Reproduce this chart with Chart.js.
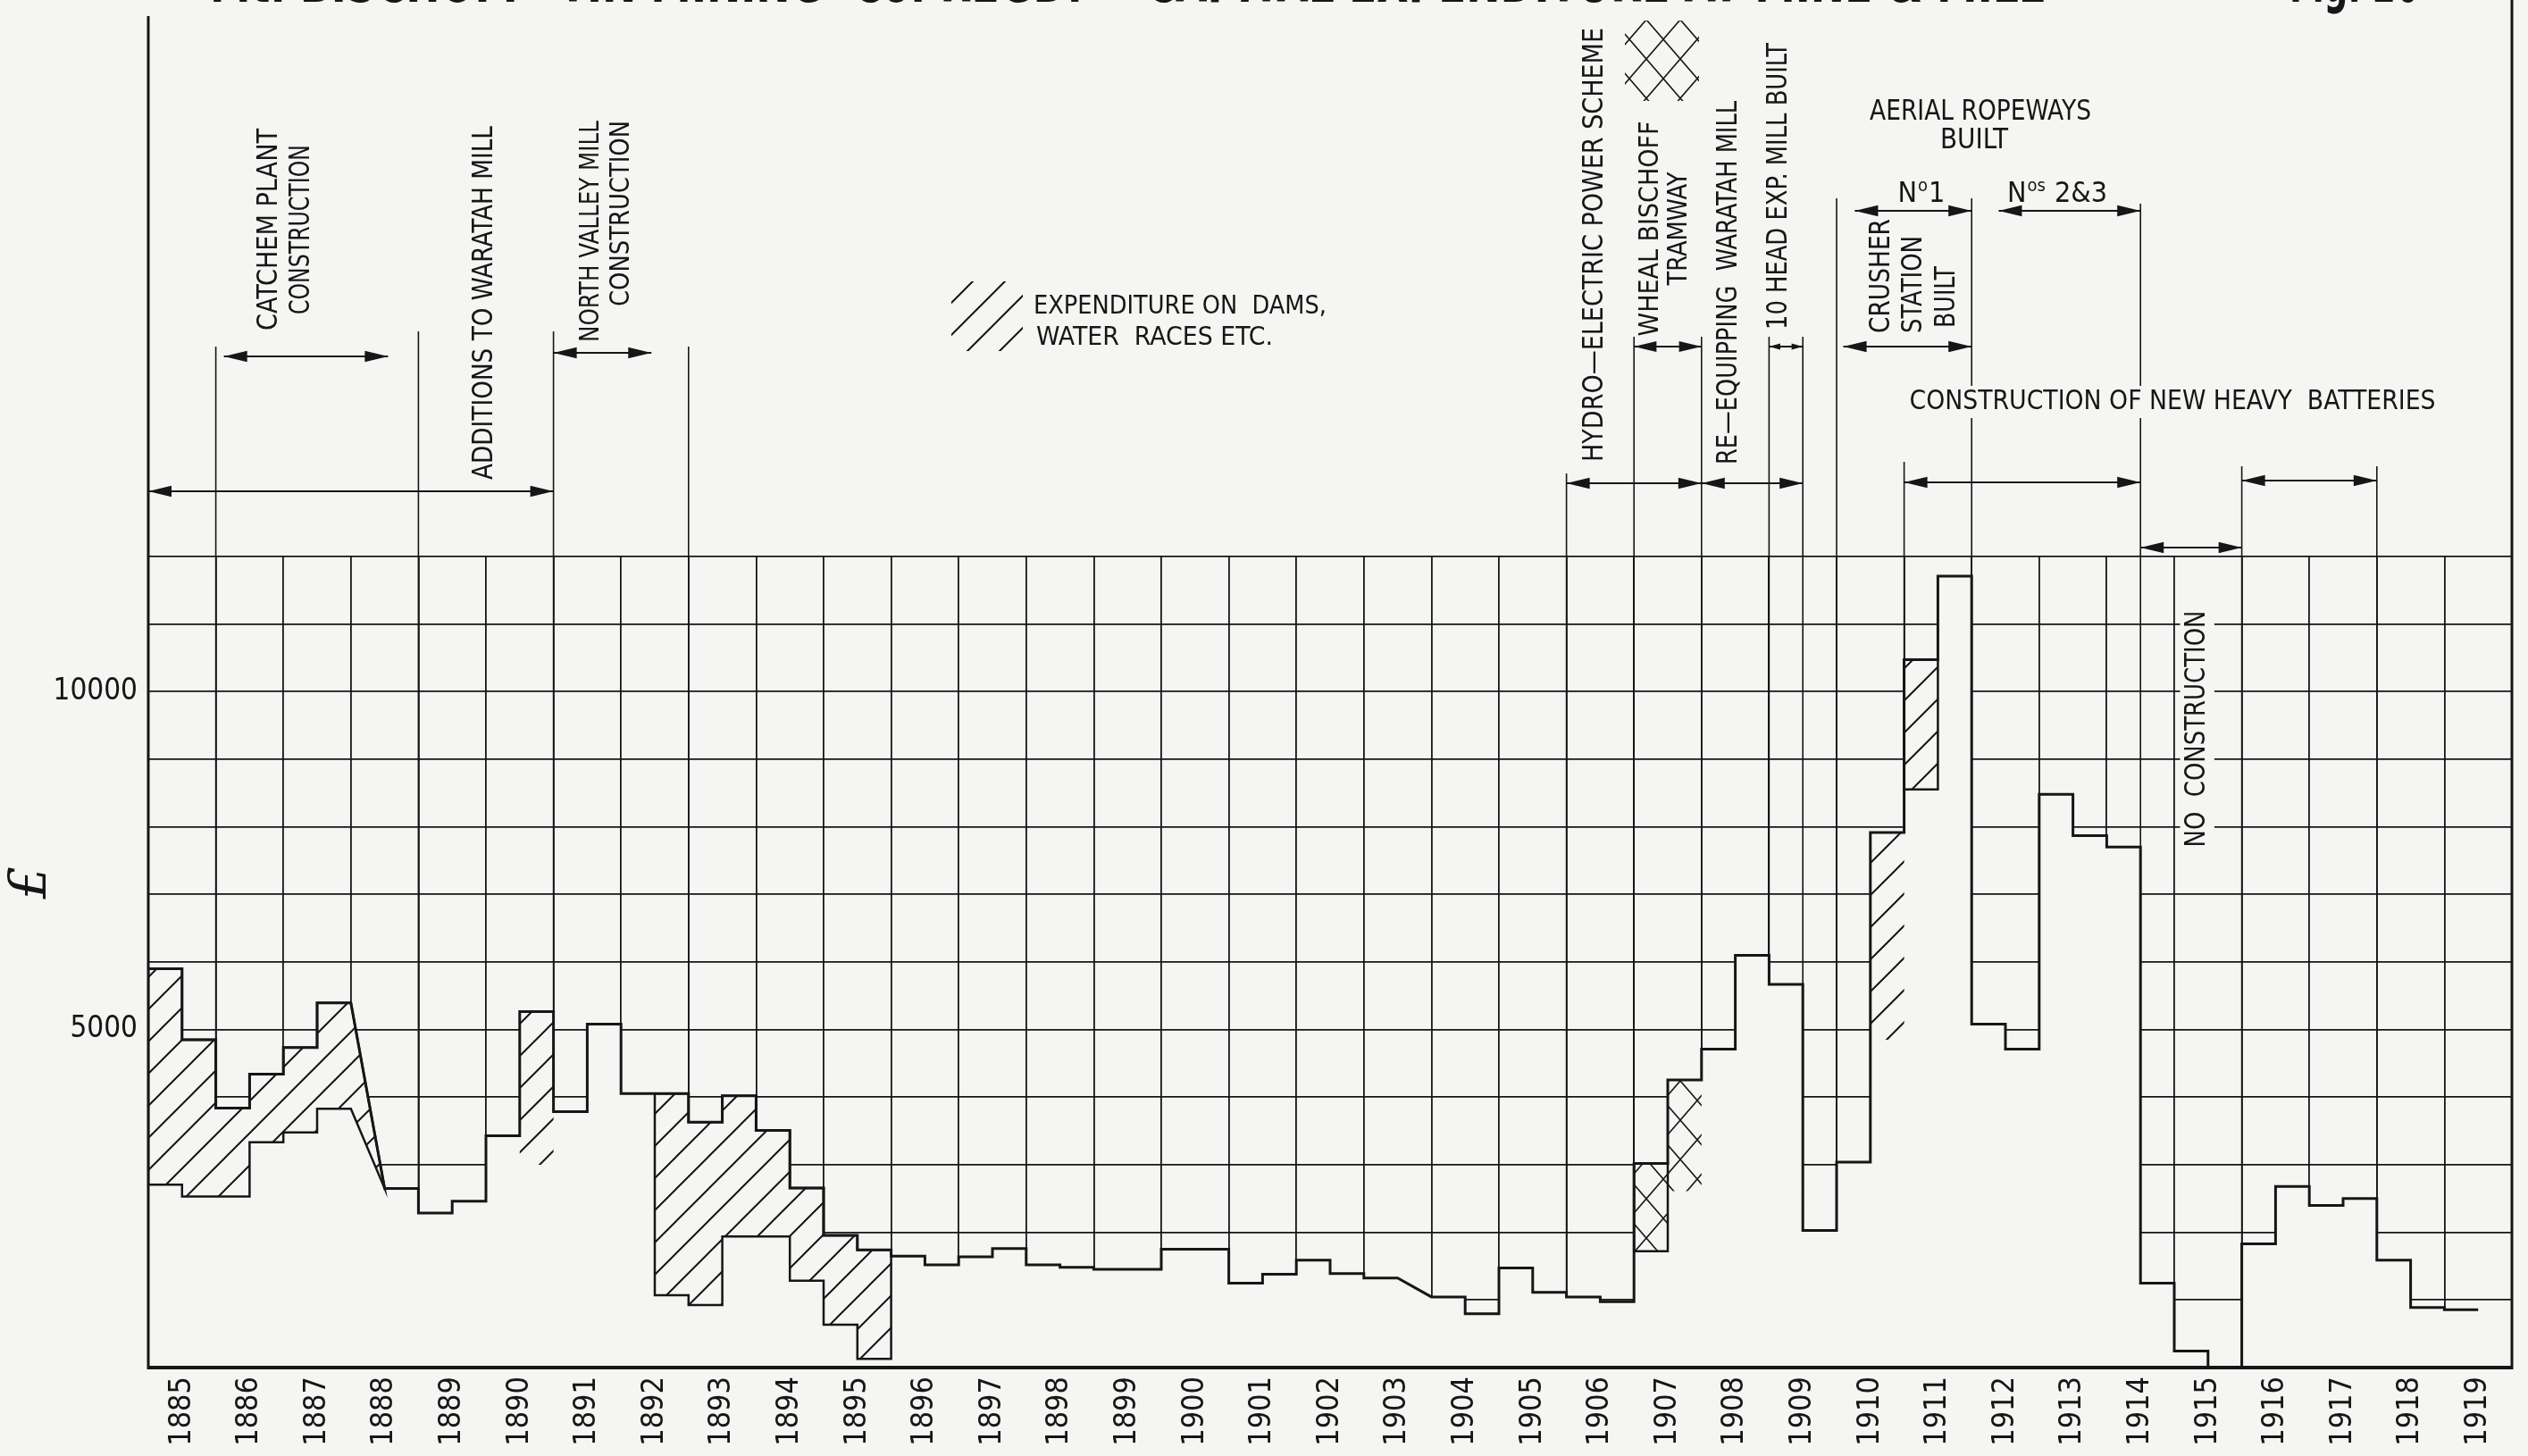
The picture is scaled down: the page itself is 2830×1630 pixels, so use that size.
<!DOCTYPE html>
<html>
<head>
<meta charset="utf-8">
<script src="https://cdn.jsdelivr.net/npm/chart.js@4.4.0/dist/chart.umd.min.js"></script>
<style>
  html, body { margin: 0; padding: 0; background: #f5f5f3; }
  #wrap { width: 2830px; height: 1630px; }
</style>
</head>
<body>
<div id="wrap"><canvas id="capex" width="2830" height="1630"></canvas></div>
<script>
// year labels on the x axis (each label sits in the middle of its year)
const years = [1885, 1886, 1887, 1888, 1889, 1890, 1891, 1892, 1893, 1894,
  1895, 1896, 1897, 1898, 1899, 1900, 1901, 1902, 1903, 1904,
  1905, 1906, 1907, 1908, 1909, 1910, 1911, 1912, 1913, 1914,
  1915, 1916, 1917, 1918, 1919];
const yLabels = [5000, 10000];

// total capital expenditure, £ per half year from 1885.0 (null = drawn as a ramp)
const totalFrom = 1885;
const totalSpend = [
  5900, 4850, 3840, 4340, 4735, 5395, null, 2650, 2285, 2460,   // 1885-1889
  3430, 5265, 3785, 5080, 4055, 4055, 3630, 4020, 3510, 2655,   // 1890-1894
  1955, 1740, 1650, 1520, 1640, 1760, 1520, 1485, 1455, 1455,   // 1895-1899
  1750, 1750, 1250, 1380, 1590, 1390, 1325, null, 1045, 795,    // 1900-1904
  1475, 1115, 1045, 975, 3020, 4255, 4710, 6100, 5670, 2030,    // 1905-1909
  3040, 7915, 10475, 11710, 5080, 4710, 8480, 7870, 7700, 1250, // 1910-1914
  245, 0, 1830, 2680, 2400, 2500, 1590, 890, 855                // 1915-1919
];

// dams, water races etc. : lower edge of the hatched band in each block
const damsFrom = [1885, 1890.5, 1892.5, 1910.5, 1911];
const damsLow = [
  [2705, 2530, 2530, 3335, 3480, 3830, null],
  [3000],
  [1070, 925, 1940, 1940, 1285, 635, 130],
  [4850],
  [8555]
];
const damsUncertain = [false, true, false, true, false];

// Wheal Bischoff tramway (cross hatched)
const tramFrom = [1907, 1907.5];
const tramLow = [[1720], [2610]];
const tramUncertain = [false, true];

const ink = '#161616';
const paper = '#f5f5f3';
const face = '"Liberation Sans Narrow", "DejaVu Sans Condensed", "Liberation Sans", sans-serif';

function stepVertices(start, vals, endVal) {
  const pts = [];
  vals.forEach((v, i) => {
    if (v === null) return;
    pts.push({x: start + i / 2, y: v}, {x: start + (i + 1) / 2, y: v});
  });
  if (vals[vals.length - 1] === null) pts.push({x: start + vals.length / 2, y: endVal});
  return pts;
}

function blockShape(from, low) {
  const i0 = Math.round((from - totalFrom) * 2);
  const top = totalSpend.slice(i0, i0 + low.length);
  const endVal = totalSpend[i0 + low.length];
  const upper = stepVertices(from, top, endVal);
  const lower = stepVertices(from, low, endVal).reverse();
  return upper.concat(lower, [upper[0]]);
}

const canvas = document.getElementById('capex');
const ctx = canvas.getContext('2d');

function makePattern(w, h, draw) {
  const c = document.createElement('canvas');
  c.width = w; c.height = h;
  const g = c.getContext('2d');
  g.strokeStyle = ink;
  g.lineWidth = 2;
  draw(g, w, h);
  return ctx.createPattern(c, 'repeat');
}

const hatch = makePattern(36, 36, (g, w, h) => {
  g.beginPath();
  for (const d of [-w, 0, w]) { g.moveTo(d - 2, h + 2); g.lineTo(d + w + 2, -2); }
  g.stroke();
});
const crossHatch = makePattern(38, 44, (g, w, h) => {
  g.lineWidth = 1.6;
  g.beginPath();
  for (const d of [-w, 0, w]) {
    g.moveTo(d, 0); g.lineTo(d + w, h);
    g.moveTo(d, h); g.lineTo(d + w, 0);
  }
  g.stroke();
});

const blocks = [];
damsFrom.forEach((f, i) => blocks.push({
  data: blockShape(f, damsLow[i]), fill: 'shape', backgroundColor: hatch,
  borderColor: damsUncertain[i] ? 'rgba(0,0,0,0)' : ink, borderWidth: 2.5, order: 1
}));
tramFrom.forEach((f, i) => blocks.push({
  data: blockShape(f, tramLow[i]), fill: 'shape', backgroundColor: crossHatch,
  borderColor: tramUncertain[i] ? 'rgba(0,0,0,0)' : ink, borderWidth: 2.5, order: 1
}));

// annotation helpers
function label(c, text, x, y, o) {
  c.save();
  c.translate(x, y);
  if (o.rot) c.rotate(-Math.PI / 2);
  const size = o.size || 32;
  c.font = (o.bold ? 'bold ' : '') + size + 'px ' + face;
  const w = c.measureText(text).width;
  if (o.len) c.scale(o.len / w, 1);
  c.textAlign = o.align || 'center';
  c.textBaseline = o.base || 'middle';
  if (o.bg) {
    const left = c.textAlign === 'left' ? 0 : c.textAlign === 'right' ? -w : -w / 2;
    c.fillStyle = paper;
    c.fillRect(left - 10, -size * 0.6, w + 20, size * 1.2);
  }
  c.fillStyle = ink;
  c.fillText(text, 0, 0);
  c.restore();
}

function numero(c, sup, rest, cx, y) {
  c.save();
  c.fillStyle = ink;
  c.textBaseline = 'alphabetic';
  const big = '32px ' + face, small = '20px ' + face;
  c.font = big; const wN = c.measureText('N').width; const wR = c.measureText(rest).width;
  c.font = small; const wS = c.measureText(sup).width;
  let x = cx - (wN + wS + wR + 2) / 2;
  c.font = big; c.fillText('N', x, y + 11); x += wN + 1;
  c.font = small; c.fillText(sup, x, y - 1); x += wS + 1;
  c.font = big; c.fillText(rest, x, y + 11);
  c.restore();
}

function arrow(c, x1, x2, y) {
  const head = Math.min(26, Math.abs(x2 - x1) / 3);
  const half = Math.max(3.5, head * 0.24);
  c.beginPath(); c.moveTo(x1, y); c.lineTo(x2, y); c.stroke();
  for (const [x, d] of [[x1, 1], [x2, -1]]) {
    c.beginPath();
    c.moveTo(x, y); c.lineTo(x + d * head, y - half); c.lineTo(x + d * head, y + half);
    c.closePath(); c.fill();
  }
}

const extensionLines = [[1886, 388], [1889, 371], [1891, 371], [1893, 388], [1906, 530],
  [1907, 377], [1908, 377], [1909, 377], [1909.5, 377], [1910, 222], [1911, 517],
  [1912, 222], [1914.5, 228], [1916, 522], [1918, 522]];

const arrows = [[399, 1886.12, 1888.55], [550, 1885, 1891], [395, 1891, 1892.45],
  [541, 1906, 1908], [541, 1908, 1909.5], [388, 1907, 1908], [388, 1909, 1909.5],
  [388, 1910.1, 1912], [236, 1910.27, 1912], [236, 1912.4, 1914.5],
  [540, 1911, 1914.5], [538, 1916, 1918], [613, 1914.5, 1916]];

const drawing = {
  id: 'drawing',
  beforeDraw(chart) {
    const c = chart.ctx;
    c.save(); c.fillStyle = paper; c.fillRect(0, 0, chart.width, chart.height); c.restore();
  },
  beforeDatasetsDraw(chart) {
    const c = chart.ctx, xs = chart.scales.x, a = chart.chartArea;
    c.save();
    c.strokeStyle = ink; c.lineWidth = 1.6;
    for (const [yr, top] of extensionLines) {
      const x = xs.getPixelForValue(yr);
      c.beginPath(); c.moveTo(x, top); c.lineTo(x, a.bottom); c.stroke();
    }
    c.restore();
  },
  afterDatasetsDraw(chart) {
    const c = chart.ctx, xs = chart.scales.x, a = chart.chartArea;
    const px = v => xs.getPixelForValue(v);
    c.save();
    c.strokeStyle = ink; c.fillStyle = ink;
    // frame
    c.lineWidth = 4;
    c.beginPath(); c.moveTo(a.left, a.bottom); c.lineTo(a.right, a.bottom); c.stroke();
    c.lineWidth = 3;
    c.beginPath(); c.moveTo(a.left, 18); c.lineTo(a.left, a.bottom + 2); c.stroke();
    c.beginPath(); c.moveTo(a.right, 0); c.lineTo(a.right, a.bottom + 2); c.stroke();

    // arrows
    c.lineWidth = 2.2;
    for (const [y, f, t] of arrows) arrow(c, px(f), px(t), y);

    // title (cut by the top edge as on the sheet)
    label(c, 'Mt. BISCHOFF  TIN MINING  Co. REGD. \u2013  CAPITAL EXPENDITURE AT MINE & MILL', 235, 17,
      {size: 64, bold: true, align: 'left', base: 'bottom', len: 2054});
    label(c, 'Fig. 26', 2563, 17, {size: 64, bold: true, align: 'left', base: 'bottom', len: 145});

    // £ axis sign
    c.save();
    c.translate(36, 988); c.rotate(-Math.PI / 2);
    c.font = 'italic 58px "DejaVu Serif", serif';
    c.textAlign = 'center'; c.textBaseline = 'middle';
    c.fillText('\u00a3', 0, 0);
    c.restore();

    // vertical notes
    label(c, 'CATCHEM PLANT', px(1886.79), 257, {rot: true, len: 226});
    label(c, 'CONSTRUCTION', px(1887.27), 257, {rot: true, len: 190});
    label(c, 'ADDITIONS TO WARATAH MILL', px(1889.98), 537, {rot: true, align: 'left', len: 396});
    label(c, 'NORTH VALLEY MILL', px(1891.56), 135, {rot: true, size: 30, align: 'right', len: 248});
    label(c, 'CONSTRUCTION', px(1892.01), 135, {rot: true, size: 30, align: 'right', len: 208});
    label(c, 'HYDRO\u2014ELECTRIC POWER SCHEME', px(1906.43), 517, {rot: true, align: 'left', len: 486});
    label(c, 'WHEAL BISCHOFF', px(1907.25), 256, {rot: true, size: 30, len: 241});
    label(c, 'TRAMWAY', px(1907.68), 256, {rot: true, size: 30, len: 127});
    label(c, 'RE\u2014EQUIPPING  WARATAH MILL', px(1908.41), 520, {rot: true, align: 'left', len: 407});
    label(c, '10 HEAD EXP. MILL BUILT', px(1909.15), 369, {rot: true, align: 'left', len: 321});
    label(c, 'CRUSHER', px(1910.67), 373, {rot: true, align: 'left', len: 128});
    label(c, 'STATION', px(1911.15), 373, {rot: true, align: 'left', len: 109});
    label(c, 'BUILT', px(1911.63), 367, {rot: true, align: 'left', len: 69});
    label(c, 'NO  CONSTRUCTION', px(1915.34), 816, {rot: true, len: 265, bg: true});

    // horizontal notes
    label(c, 'EXPENDITURE ON  DAMS,', 1157, 343, {size: 29, align: 'left', len: 328});
    label(c, 'WATER  RACES ETC.', 1160, 378, {size: 29, align: 'left', len: 265});
    label(c, 'AERIAL ROPEWAYS', 2217, 126, {len: 248});
    label(c, 'BUILT', 2210, 158, {len: 76});
    label(c, 'CONSTRUCTION OF NEW HEAVY  BATTERIES', 2432, 450, {size: 30, len: 589, bg: true});
    numero(c, 'o', '1', 2151, 215);
    numero(c, 'os', ' 2&3', 2303, 215);

    // key samples
    c.fillStyle = hatch; c.fillRect(1065, 315, 80, 78);
    c.fillStyle = crossHatch; c.fillRect(1819, 23, 83, 90);
    c.restore();
  }
};

new Chart(ctx, {
  type: 'line',
  data: {
    datasets: [{
      label: 'Capital expenditure',
      data: stepVertices(totalFrom, totalSpend),
      borderColor: ink, borderWidth: 3, fill: 'origin', backgroundColor: paper, order: 3
    }].concat(blocks)
  },
  options: {
    responsive: false,
    animation: false,
    elements: {
      point: {radius: 0, hoverRadius: 0},
      line: {tension: 0, borderJoinStyle: 'miter', borderCapStyle: 'butt'}
    },
    layout: {padding: {top: 623, right: 18, left: 0, bottom: 0}},
    plugins: {legend: {display: false}, tooltip: {enabled: false}},
    scales: {
      x: {
        type: 'linear', min: 1885, max: 1920,
        afterBuildTicks: s => { s.ticks = years.map(y => ({value: y + 0.5})); },
        afterFit: s => { s.height = 99; },
        ticks: {
          autoSkip: false, minRotation: 90, maxRotation: 90, padding: 10, color: ink,
          font: {family: face, size: 34},
          callback: v => String(Math.floor(v))
        },
        grid: {offset: true, color: ink, lineWidth: 1.8, drawTicks: false},
        border: {display: false}
      },
      y: {
        min: 0, max: 12000,
        afterFit: s => { s.width = 166; },
        ticks: {
          stepSize: 1000, autoSkip: false, padding: 12, color: ink,
          font: {family: face, size: 33},
          callback: v => yLabels.includes(v) ? String(v) : ''
        },
        grid: {color: ink, lineWidth: 1.8, drawTicks: false},
        border: {display: false}
      }
    }
  },
  plugins: [drawing]
});
</script>
</body>
</html>
